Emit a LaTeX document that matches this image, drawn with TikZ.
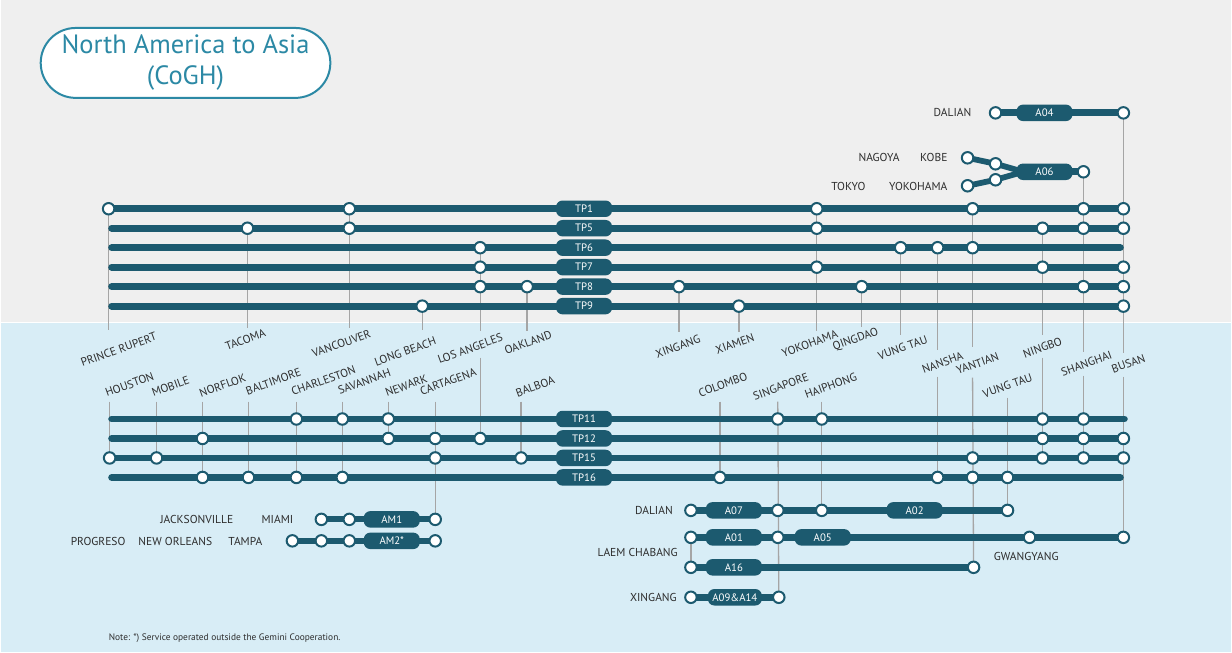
\documentclass[tikz,border=0pt]{standalone}
\usepackage{fontspec}
\setmainfont{PT Sans}
\definecolor{teal1}{RGB}{28,90,111}
\definecolor{titleblue}{RGB}{44,137,165}
\definecolor{bgtop}{RGB}{239,239,239}
\definecolor{bgbot}{RGB}{216,237,246}
\definecolor{guidegray}{RGB}{165,165,165}
\definecolor{labgray}{RGB}{45,45,45}
\pgfdeclarelayer{back}
\pgfdeclarelayer{mid}
\pgfsetlayers{back,mid,main}
\tikzset{
  route/.style={draw=teal1, line width=6.8pt, line cap=round, line join=round},
  branch/.style={draw=teal1, line width=5.8pt, line cap=round, line join=round},
  stop/.style={circle, draw=teal1, fill=white, line width=2pt, minimum size=11.5pt, inner sep=0pt},
  tag/.style={fill=teal1, rounded corners=6.5pt, minimum width=56pt, minimum height=16.5pt, inner sep=0pt, text=white, font=\fontsize{10.8}{12}\selectfont},
  lab/.style={text=labgray, font=\fontsize{11.5}{13}\selectfont, inner sep=0pt},
  rlab/.style={lab, rotate=20},
  guide/.style={draw=guidegray, line width=1.3pt},
}
\begin{document}
\begin{tikzpicture}[x=1pt,y=-1pt]
\begin{pgfonlayer}{back}
\fill[bgtop] (0,0) rectangle (1232,323);
\fill[bgbot] (0,323) rectangle (1232,653);
\draw[white,line width=1.5pt] (0,323) -- (1232,323);
\end{pgfonlayer}
\useasboundingbox (0,0) rectangle (1232,653);

% title
\node[draw=titleblue, line width=2pt, fill=white, rounded corners=35pt, minimum width=290pt, minimum height=70pt, text=titleblue, align=center, font=\fontsize{26.5}{31}\selectfont] (title) at (185,63) {North America to Asia\\(CoGH)};

% ---------- A04 / A06 ----------
\node[lab,anchor=east] (lDalianTop) at (972,113) {DALIAN};
\node[stop] (a04s) at (996,113) {};
\node[tag] (a04) at (1045,113) {A04};
\node[stop] (a04e) at (1124,113) {};

\node[lab,anchor=east] (lNagoya) at (900,158) {NAGOYA};
\node[lab,anchor=east] (lKobe) at (948,158) {KOBE};
\node[lab,anchor=east] (lTokyo) at (866,187) {TOKYO};
\node[lab,anchor=east] (lYokoTop) at (948,187) {YOKOHAMA};
\node[stop] (a06k) at (968,158) {};
\node[stop] (a06k2) at (996,164) {};
\node[stop] (a06y) at (968,186) {};
\node[stop] (a06y2) at (996,180) {};
\node[tag] (a06) at (1045,172) {A06};
\node[stop] (a06e) at (1084,172) {};
\coordinate (a06j) at (1024,172);

% ---------- upper TP routes ----------
\node[tag] (tp1) at (584,209) {TP1};
\foreach \n/\x in {pr/108,van/349,yok/817,yan/973,sha/1084,bus/1124}
  \node[stop] (tp1-\n) at (\x,209) {};
\node[tag] (tp5) at (584,228.5) {TP5};
\coordinate (tp5-s) at (111,228.5);
\foreach \n/\x in {tac/247,van/349,yok/817,nin/1043,sha/1084,bus/1124}
  \node[stop] (tp5-\n) at (\x,228.5) {};
\node[tag] (tp6) at (584,248) {TP6};
\coordinate (tp6-s) at (111,248);
\coordinate (tp6-e) at (1121,248);
\foreach \n/\x in {la/480,vun/901,nan/938,yan/973}
  \node[stop] (tp6-\n) at (\x,248) {};
\node[tag] (tp7) at (584,267.5) {TP7};
\coordinate (tp7-s) at (111,267.5);
\foreach \n/\x in {la/480,yok/817,nin/1043,bus/1124}
  \node[stop] (tp7-\n) at (\x,267.5) {};
\node[tag] (tp8) at (584,287) {TP8};
\coordinate (tp8-s) at (111,287);
\foreach \n/\x in {la/480,oak/527,xin/679,qin/862,sha/1084,bus/1124}
  \node[stop] (tp8-\n) at (\x,287) {};
\node[tag] (tp9) at (584,306.5) {TP9};
\coordinate (tp9-s) at (111,306.5);
\foreach \n/\x in {lb/422,xia/739,bus/1124}
  \node[stop] (tp9-\n) at (\x,306.5) {};

% ---------- lower TP routes ----------
\node[tag] (tp11) at (584,419.5) {TP11};
\coordinate (tp11-s) at (111,419.5);
\coordinate (tp11-e) at (1125,419.5);
\foreach \n/\x in {cha/296,sav/342,new/388,sin/778,hai/822,nin/1043,sha/1084}
  \node[stop] (tp11-\n) at (\x,419.5) {};
\node[tag] (tp12) at (584,439) {TP12};
\coordinate (tp12-s) at (111,439);
\foreach \n/\x in {nor/202,new/388,car/435,la/480,nin/1043,sha/1084,bus/1124}
  \node[stop] (tp12-\n) at (\x,439) {};
\node[tag] (tp15) at (584,458.5) {TP15};
\foreach \n/\x in {hou/109,mob/156,car/435,bal/521,yan/973,nin/1043,sha/1084,bus/1124}
  \node[stop] (tp15-\n) at (\x,458.5) {};
\node[tag] (tp16) at (584,478) {TP16};
\coordinate (tp16-s) at (111,478);
\coordinate (tp16-e) at (1121,478);
\foreach \n/\x in {nor/202,balt/248,cha/296,sav/342,col/720,nan/938,yan/973,vun/1008}
  \node[stop] (tp16-\n) at (\x,478) {};

% ---------- AM routes ----------
\node[lab,anchor=east] (lJack) at (233,520) {JACKSONVILLE};
\node[lab,anchor=east] (lMiami) at (293,520) {MIAMI};
\node[lab,anchor=east] (lProg) at (125,542) {PROGRESO};
\node[lab,anchor=east] (lNewOr) at (212,542) {NEW ORLEANS};
\node[lab,anchor=east] (lTampa) at (262,542) {TAMPA};
\node[tag] (am1) at (391.5,520) {AM1};
\foreach \n/\x in {j/321,m/349,e/435}
  \node[stop] (am1-\n) at (\x,520) {};
\node[tag] (am2) at (391.5,541.5) {AM2*};
\foreach \n/\x in {p/292,n/321,t/349,e/435}
  \node[stop] (am2-\n) at (\x,541.5) {};

% ---------- Asia A routes ----------
\node[lab,anchor=east] (lDalianBot) at (673,511) {DALIAN};
\node[lab,anchor=east] (lLaem) at (678,553) {LAEM CHABANG};
\node[lab,anchor=west] (lGwang) at (994,557) {GWANGYANG};
\node[lab,anchor=east] (lXinBot) at (677,598) {XINGANG};
\node[tag] (a07) at (734,511) {A07};
\node[tag] (a02) at (915,511) {A02};
\foreach \n/\x in {d/691,sin/778,hai/822,vun/1008}
  \node[stop] (a07-\n) at (\x,511) {};
\node[tag] (a01) at (734,538) {A01};
\node[tag] (a05) at (823,538) {A05};
\foreach \n/\x in {l/691,sin/778,gw/1030,bus/1124}
  \node[stop] (a01-\n) at (\x,538) {};
\node[tag] (a16) at (734,568) {A16};
\foreach \n/\x in {l/691,yan/974}
  \node[stop] (a16-\n) at (\x,568) {};
\node[tag, minimum width=54pt] (a09) at (735,598) {A09\&A14};
\foreach \n/\x in {x/691,sin/779}
  \node[stop] (a09-\n) at (\x,598) {};

% ---------- rotated port labels (upper) ----------
\node[rlab] (uPR) at (118,350) {PRINCE RUPERT};
\node[rlab] (uTac) at (245,340) {TACOMA};
\node[rlab] (uVan) at (341,344) {VANCOUVER};
\node[rlab] (uLB) at (405,352) {LONG BEACH};
\node[rlab] (uLA) at (470,349) {LOS ANGELES};
\node[rlab] (uOak) at (528,343) {OAKLAND};
\node[rlab] (uXin) at (678,347) {XINGANG};
\node[rlab] (uXia) at (735,344) {XIAMEN};
\node[rlab] (uYok) at (810,344) {YOKOHAMA};
\node[rlab] (uQin) at (856,340) {QINGDAO};
\node[rlab] (uVun) at (903,348) {VUNG TAU};
\node[rlab] (uNan) at (943,363) {NANSHA};
\node[rlab] (uYan) at (978,364) {YANTIAN};
\node[rlab] (uNin) at (1043,348) {NINGBO};
\node[rlab] (uSha) at (1087,364) {SHANGHAI};
\node[rlab] (uBus) at (1129,364) {BUSAN};

% ---------- rotated port labels (lower) ----------
\node[rlab] (dHou) at (129,385) {HOUSTON};
\node[rlab] (dMob) at (170,387) {MOBILE};
\node[rlab] (dNor) at (222,386) {NORFLOK};
\node[rlab] (dBalt) at (273,382) {BALTIMORE};
\node[rlab] (dCha) at (323,381) {CHARLESTON};
\node[rlab] (dSav) at (364,382) {SAVANNAH};
\node[rlab] (dNew) at (406,386) {NEWARK};
\node[rlab] (dCar) at (448,382) {CARTAGENA};
\node[rlab] (dBal) at (535,387) {BALBOA};
\node[rlab] (dCol) at (723,385) {COLOMBO};
\node[rlab] (dSin) at (781,387) {SINGAPORE};
\node[rlab] (dHai) at (831,386) {HAIPHONG};
\node[rlab] (dVun) at (1008,386) {VUNG TAU};

% note
\node[text=labgray, font=\fontsize{9.4}{11}\selectfont, anchor=west, inner sep=0pt] (note) at (108,639) {Note: *) Service operated outside the Gemini Cooperation.};

% free ends of guide lines
\coordinate (gPR) at (108,330);
\coordinate (gTac) at (247,328);
\coordinate (gVan) at (349,328);
\coordinate (gLB) at (422,330);
\coordinate (gLAa) at (480,331);
\coordinate (gLAb) at (480,358);
\coordinate (gOak) at (527,331);
\coordinate (gXin) at (679,332);
\coordinate (gXia) at (739,332);
\coordinate (gYok) at (817,331);
\coordinate (gQin) at (862,327);
\coordinate (gVun) at (901,335);
\coordinate (gNana) at (938,350);
\coordinate (gNanb) at (938,377);
\coordinate (gYana) at (973,347);
\coordinate (gYanb) at (973,378);
\coordinate (gNina) at (1043,335);
\coordinate (gNinb) at (1043,358);
\coordinate (gShaa) at (1084,352);
\coordinate (gShab) at (1084,376);
\coordinate (gBusa) at (1124,353);
\coordinate (gBusb) at (1124,377);
\coordinate (gHou) at (109,402);
\coordinate (gMob) at (156,402);
\coordinate (gNor) at (202,402);
\coordinate (gBalt) at (248,402);
\coordinate (gCha) at (296,402);
\coordinate (gSav) at (342,402);
\coordinate (gNew) at (388,402);
\coordinate (gCar) at (435,402);
\coordinate (gBal) at (521,402);
\coordinate (gCol) at (720,402);
\coordinate (gSin) at (778,402);
\coordinate (gHai) at (822,402);
\coordinate (gVunb) at (1008,398);

\begin{pgfonlayer}{back}
\draw[guide] (tp1-pr.center) -- (gPR);
\draw[guide] (tp5-tac.center) -- (gTac);
\draw[guide] (tp1-van.center) -- (gVan);
\draw[guide] (tp9-lb.center) -- (gLB);
\draw[guide] (tp6-la.center) -- (gLAa);
\draw[guide] (gLAb) -- (tp12-la.center);
\draw[guide] (tp8-oak.center) -- (gOak);
\draw[guide] (tp8-xin.center) -- (gXin);
\draw[guide] (tp9-xia.center) -- (gXia);
\draw[guide] (tp1-yok.center) -- (gYok);
\draw[guide] (tp8-qin.center) -- (gQin);
\draw[guide] (tp6-vun.center) -- (gVun);
\draw[guide] (tp6-nan.center) -- (gNana);
\draw[guide] (gNanb) -- (tp16-nan.center);
\draw[guide] (tp1-yan.center) -- (gYana);
\draw[guide] (gYanb) -- (a16-yan.center);
\draw[guide] (tp5-nin.center) -- (gNina);
\draw[guide] (gNinb) -- (tp15-nin.center);
\draw[guide] (a06e.center) -- (gShaa);
\draw[guide] (gShab) -- (tp15-sha.center);
\draw[guide] (a04e.center) -- (gBusa);
\draw[guide] (gBusb) -- (a01-bus.center);
\draw[guide] (gHou) -- (tp15-hou.center);
\draw[guide] (gMob) -- (tp15-mob.center);
\draw[guide] (gNor) -- (tp16-nor.center);
\draw[guide] (gBalt) -- (tp16-balt.center);
\draw[guide] (gCha) -- (tp16-cha.center);
\draw[guide] (gSav) -- (tp16-sav.center);
\draw[guide] (gNew) -- (tp12-new.center);
\draw[guide] (gCar) -- (am1-e.center);
\draw[guide] (gBal) -- (tp15-bal.center);
\draw[guide] (gCol) -- (tp16-col.center);
\draw[guide] (gSin) -- (a09-sin.center);
\draw[guide] (gHai) -- (a07-hai.center);
\draw[guide] (gVunb) -- (a07-vun.center);
\draw[guide] (a01-l.center) -- (a16-l.center);
\end{pgfonlayer}

\begin{pgfonlayer}{mid}
\draw[route] (a04s.center) -- (a04e.center);
\draw[branch] (a06k.center) -- (a06k2.center) -- (a06j);
\draw[branch] (a06y.center) -- (a06y2.center) -- (a06j);
\draw[route] (a06.center) -- (a06e.center);
\draw[route] (tp1-pr.center) -- (tp1-bus.center);
\draw[route] (tp5-s) -- (tp5-bus.center);
\draw[route] (tp6-s) -- (tp6-e);
\draw[route] (tp7-s) -- (tp7-bus.center);
\draw[route] (tp8-s) -- (tp8-bus.center);
\draw[route] (tp9-s) -- (tp9-bus.center);
\draw[route] (tp11-s) -- (tp11-e);
\draw[route] (tp12-s) -- (tp12-bus.center);
\draw[route] (tp15-hou.center) -- (tp15-bus.center);
\draw[route] (tp16-s) -- (tp16-e);
\draw[branch] (am1-j.center) -- (am1-e.center);
\draw[branch] (am2-p.center) -- (am2-e.center);
\draw[route] (a07-d.center) -- (a07-vun.center);
\draw[route] (a01-l.center) -- (a01-bus.center);
\draw[route] (a16-l.center) -- (a16-yan.center);
\draw[route] (a09-x.center) -- (a09-sin.center);
\end{pgfonlayer}
\end{tikzpicture}
\end{document}
